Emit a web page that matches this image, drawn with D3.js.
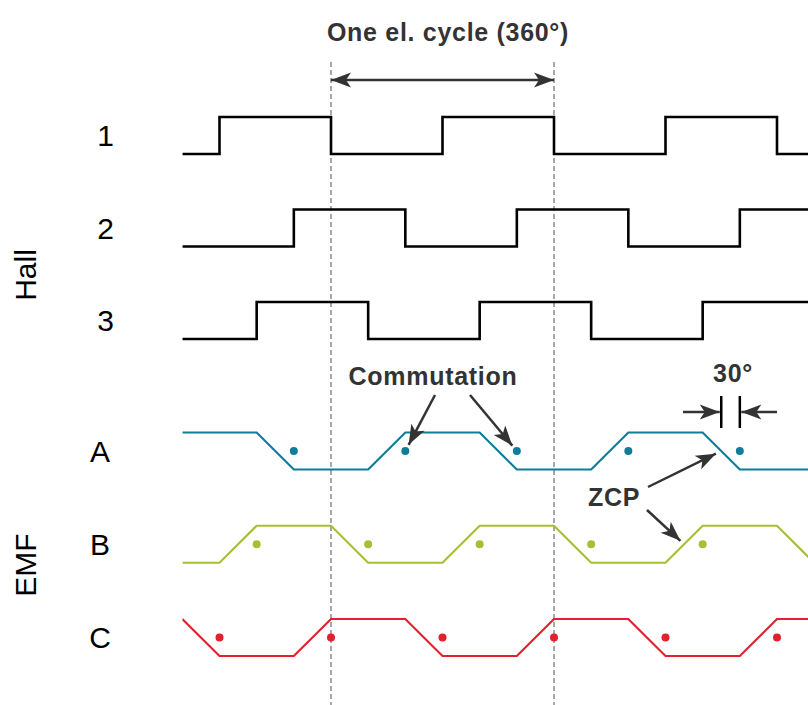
<!DOCTYPE html>
<html>
<head>
<meta charset="utf-8">
<script src="https://cdn.jsdelivr.net/npm/d3@7"></script>
<style>
  body { margin: 0; background: #fff; }
  svg { display: block; font-family: "Liberation Sans", Arial, sans-serif; }
  .row-label { font-size: 30px; fill: #000; }
  .note { font-size: 25px; font-weight: bold; fill: #333; letter-spacing: 0.7px; }
</style>
</head>
<body>
<svg id="chart"></svg>
<script>
// Electrical angle (degrees) where each signal changes, with its level (0 = low, 1 = high)
const hallNames = ["1", "2", "3"];
const hall1 = [[-240, 0], [-180, 1], [0, 0], [180, 1], [360, 0], [540, 1], [720, 0], [780, 0]];
const hall2 = [[-240, 0], [-60, 1], [120, 0], [300, 1], [480, 0], [660, 1], [780, 1]];
const hall3 = [[-240, 0], [-120, 1], [60, 0], [240, 1], [420, 0], [600, 1], [780, 1]];

// Trapezoidal back-EMF corners
const emfNames = ["A", "B", "C"];
const emfA = [[-240, 1], [-120, 1], [-60, 0], [60, 0], [120, 1], [240, 1], [300, 0], [420, 0], [480, 1], [600, 1], [660, 0], [780, 0]];
const emfB = [[-240, 0], [-180, 0], [-120, 1], [0, 1], [60, 0], [180, 0], [240, 1], [360, 1], [420, 0], [540, 0], [600, 1], [720, 1], [780, 0]];
const emfC = [[-240, 1], [-180, 0], [-60, 0], [0, 1], [120, 1], [180, 0], [300, 0], [360, 1], [480, 1], [540, 0], [660, 0], [720, 1], [780, 1]];

// Commutation points (drawn at mid level)
const commA = [-60, 120, 300, 480, 660];
const commB = [-120, 60, 240, 420, 600];
const commC = [-180, 0, 180, 360, 540, 720];

const emfColors = ["#0e7d9b", "#a5c035", "#e1222e"];
const cycleMarks = [0, 360];

document.addEventListener('DOMContentLoaded', function() {
  const W = 808, H = 705;
  const svg = d3.select("#chart").attr("width", W).attr("height", H);

  // x: electrical degrees -> px
  const x = d3.scaleLinear().domain([0, 360]).range([331, 554]);
  // row centres
  const hallY = d3.scalePoint().domain(hallNames).range([135.5, 320.5]);
  const emfY = d3.scalePoint().domain(emfNames).range([451, 637.5]);
  // level offset inside a row
  const lvl = d3.scaleLinear().domain([0, 1]).range([18.5, -18.5]);

  svg.append("defs").append("marker")
    .attr("id", "head")
    .attr("markerUnits", "userSpaceOnUse")
    .attr("viewBox", "-21 -9 22 18")
    .attr("refX", 0).attr("refY", 0)
    .attr("markerWidth", 22).attr("markerHeight", 18)
    .attr("orient", "auto-start-reverse")
    .append("path")
    .attr("d", "M0,0 L-20,-7.5 L-15,0 L-20,7.5 Z")
    .attr("fill", "#333");

  // clip the traces to the plotting strip
  svg.append("clipPath").attr("id", "clip")
    .append("rect").attr("x", x(-240)).attr("y", 0).attr("width", W - x(-240)).attr("height", H);

  // dashed cycle markers
  svg.selectAll(".cycle")
    .data(cycleMarks)
    .enter()
    .append("line")
    .attr("x1", d => x(d)).attr("x2", d => x(d))
    .attr("y1", 62).attr("y2", H)
    .attr("stroke", "#a8a8a8")
    .attr("stroke-width", 2)
    .attr("stroke-dasharray", "5,3");

  const traces = svg.append("g").attr("clip-path", "url(#clip)");

  // Hall square waves
  const hallData = [hall1, hall2, hall3];
  hallNames.forEach((name, i) => {
    const line = d3.line()
      .x(d => x(d[0]))
      .y(d => hallY(name) + lvl(d[1]))
      .curve(d3.curveStepAfter);
    traces.append("path")
      .attr("d", line(hallData[i]))
      .attr("fill", "none")
      .attr("stroke", "#000")
      .attr("stroke-width", 2.6);
  });

  // EMF trapezoids and commutation dots
  const emfData = [emfA, emfB, emfC];
  const commData = [commA, commB, commC];
  emfNames.forEach((name, i) => {
    const line = d3.line()
      .x(d => x(d[0]))
      .y(d => emfY(name) + lvl(d[1]));
    traces.append("path")
      .attr("d", line(emfData[i]))
      .attr("fill", "none")
      .attr("stroke", emfColors[i])
      .attr("stroke-width", 2.2);
    traces.selectAll(".dot-" + name)
      .data(commData[i])
      .enter()
      .append("circle")
      .attr("cx", d => x(d))
      .attr("cy", emfY(name) + lvl(0.5))
      .attr("r", 4)
      .attr("fill", emfColors[i]);
  });

  // row labels
  svg.selectAll(".hall-label")
    .data(hallNames)
    .enter()
    .append("text")
    .attr("class", "row-label")
    .attr("x", 114)
    .attr("y", d => hallY(d))
    .attr("dy", "0.36em")
    .attr("text-anchor", "end")
    .text(d => d);

  svg.selectAll(".emf-label")
    .data(emfNames)
    .enter()
    .append("text")
    .attr("class", "row-label")
    .attr("x", 100)
    .attr("y", d => emfY(d))
    .attr("dy", "0.36em")
    .attr("text-anchor", "middle")
    .text(d => d);

  // group labels
  svg.append("text")
    .attr("class", "row-label")
    .attr("transform", "translate(36,275) rotate(-90)")
    .attr("text-anchor", "middle")
    .text("Hall");
  svg.append("text")
    .attr("class", "row-label")
    .attr("transform", "translate(36,565) rotate(-90)")
    .attr("text-anchor", "middle")
    .text("EMF");

  // arrow helper: stops `gap` px short of the target
  function arrow(x1, y1, x2, y2, gap, both) {
    const dx = x2 - x1, dy = y2 - y1, len = Math.hypot(dx, dy);
    const ex = x2 - dx / len * gap, ey = y2 - dy / len * gap;
    const l = svg.append("line")
      .attr("x1", x1).attr("y1", y1).attr("x2", ex).attr("y2", ey)
      .attr("stroke", "#333").attr("stroke-width", 2.5)
      .attr("marker-end", "url(#head)");
    if (both) l.attr("marker-start", "url(#head)");
  }

  // one electrical cycle
  svg.append("text")
    .attr("class", "note")
    .attr("x", 448)
    .attr("y", 41)
    .attr("text-anchor", "middle")
    .text("One el. cycle (360°)");
  arrow(x(0), 80, x(360), 80, 0, true);

  // commutation callout (points at A dots)
  svg.append("text")
    .attr("class", "note")
    .attr("x", 433)
    .attr("y", 385)
    .attr("text-anchor", "middle")
    .text("Commutation");
  arrow(435, 395, x(120), emfY("A") + lvl(0.5), 7);
  arrow(470, 395, x(300), emfY("A") + lvl(0.5), 7);

  // 30 degree gap between ZCP and commutation
  const zcp = 630, comm = 660;
  svg.selectAll(".gap-tick")
    .data([zcp, comm])
    .enter()
    .append("line")
    .attr("x1", d => x(d)).attr("x2", d => x(d))
    .attr("y1", 396).attr("y2", 428)
    .attr("stroke", "#000").attr("stroke-width", 2.5);
  arrow(683, 412, x(zcp) - 1.5, 412, 0);
  arrow(777, 412, x(comm) + 1.5, 412, 0);
  svg.append("text")
    .attr("class", "note")
    .attr("x", 733)
    .attr("y", 382)
    .attr("text-anchor", "middle")
    .text("30°");

  // zero crossing points
  svg.append("text")
    .attr("class", "note")
    .attr("x", 614)
    .attr("y", 506)
    .attr("text-anchor", "middle")
    .text("ZCP");
  arrow(648, 487, x(zcp), emfY("A") + lvl(0.5), 6);
  arrow(647, 510, x(570), emfY("B") + lvl(0.5), 5);
});
</script>
</body>
</html>
